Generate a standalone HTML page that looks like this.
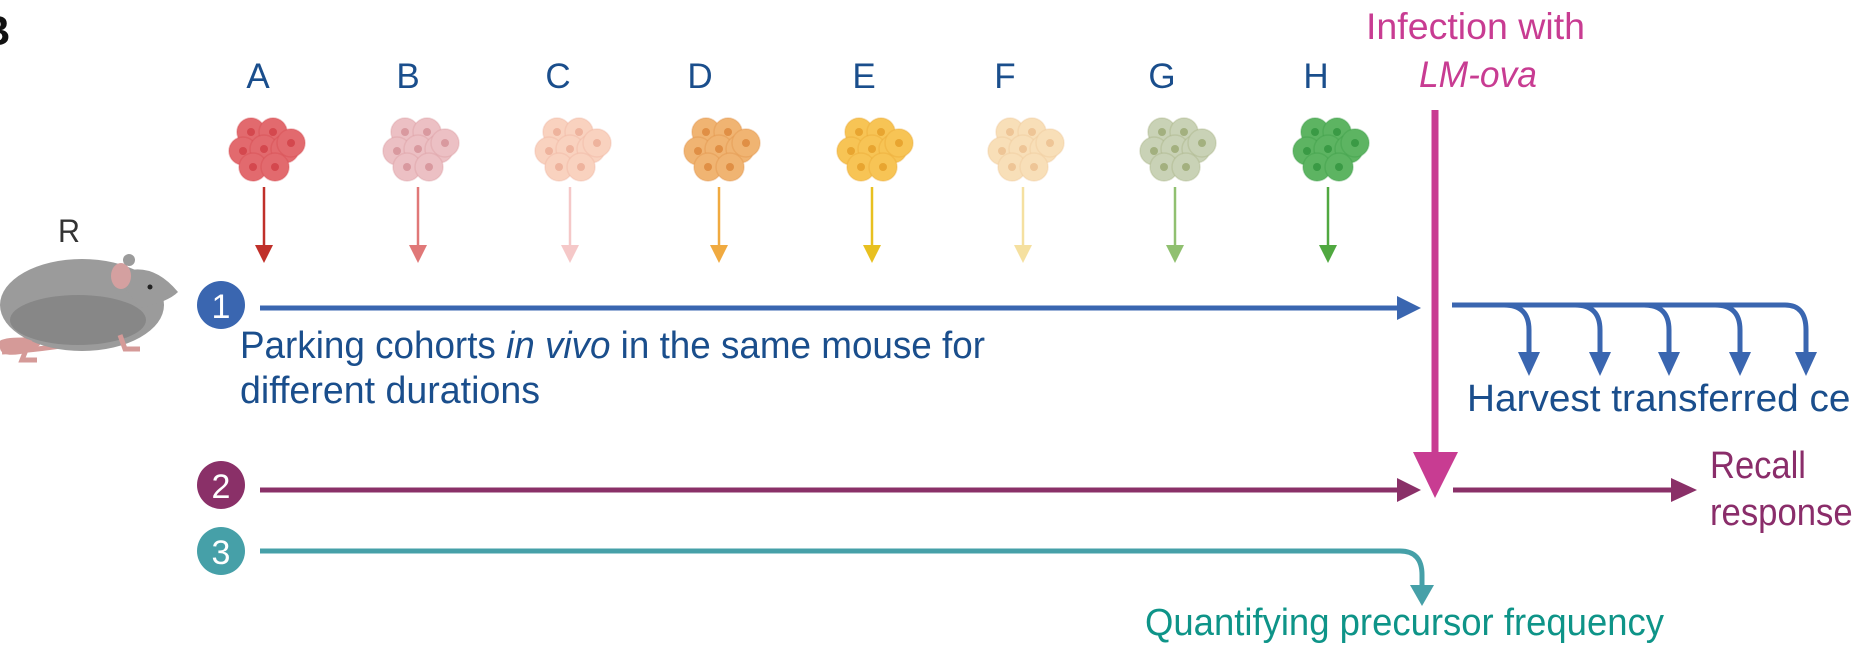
<!DOCTYPE html>
<html><head><meta charset="utf-8"><style>
html,body{margin:0;padding:0;background:#fff;width:1852px;height:650px;overflow:hidden}
svg{display:block;font-family:"Liberation Sans",Arial,sans-serif}
</style></head><body>
<svg id="s" width="1852" height="650" viewBox="0 0 1852 650">
<text x="-20" y="45" font-size="42" font-weight="bold" fill="#111">B</text>
<text x="58" y="242" font-size="32" fill="#333" textLength="22" lengthAdjust="spacingAndGlyphs">R</text>
<g id="mouse">
<path d="M0,345 Q-5,340 10,338 Q60,335 30,352 Q-2,360 0,345" fill="#d59a98"/>
<path d="M2,352 Q40,350 85,342" stroke="#d59a98" stroke-width="5" fill="none"/>
<ellipse cx="82" cy="305" rx="82" ry="46" fill="#9b9b9b"/>
<ellipse cx="78" cy="320" rx="68" ry="25" fill="#878787"/>
<path d="M115,275 Q150,258 178,292 Q168,302 140,308 Z" fill="#9b9b9b"/>
<ellipse cx="121" cy="276" rx="10" ry="13" fill="#d4a0a0"/>
<circle cx="129" cy="260" r="6" fill="#9b9b9b"/>
<circle cx="150" cy="287" r="2.5" fill="#222"/>
<path d="M30,340 l-8,20 l15,0 M120,335 l5,14 l15,0" stroke="#d59a98" stroke-width="5" fill="none"/>
</g>
<g id="cohorts"></g>
<text x="1366" y="39" font-size="37" fill="#c83c92" textLength="219" lengthAdjust="spacingAndGlyphs">Infection with</text>
<text x="1419" y="87" font-size="37" font-style="italic" fill="#c83c92" textLength="118" lengthAdjust="spacingAndGlyphs">LM-ova</text>
<line x1="1435" y1="110" x2="1435" y2="455" stroke="#c83c92" stroke-width="7"/>
<path d="M1413,452 L1458,452 L1435,498 Z" fill="#c83c92"/>
<circle cx="221" cy="305" r="24" fill="#3a66b0"/>
<text x="221" y="318" font-size="34" fill="#fff" text-anchor="middle">1</text>
<line x1="260" y1="308" x2="1400" y2="308" stroke="#3a66b0" stroke-width="5"/>
<path d="M1397,296 L1421,308 L1397,320 Z" fill="#3a66b0"/>
<text x="240" y="358" font-size="38" fill="#1a4e8c" textLength="745" lengthAdjust="spacingAndGlyphs">Parking cohorts <tspan font-style="italic">in vivo</tspan> in the same mouse for</text>
<text x="240" y="403" font-size="38" fill="#1a4e8c" textLength="300" lengthAdjust="spacingAndGlyphs">different durations</text>
<g id="harvest">
<path d="M1452,305 L1785,305 Q1806,305 1806,330 L1806,355" stroke="#3a66b0" stroke-width="5" fill="none"/>
</g>
<text x="1467" y="411" font-size="38" fill="#1a4e8c" textLength="420" lengthAdjust="spacingAndGlyphs">Harvest transferred cells</text>
<circle cx="221" cy="485" r="24" fill="#8a3068"/>
<text x="221" y="498" font-size="34" fill="#fff" text-anchor="middle">2</text>
<line x1="260" y1="490" x2="1400" y2="490" stroke="#8a3068" stroke-width="5"/>
<path d="M1397,478 L1421,490 L1397,502 Z" fill="#8a3068"/>
<line x1="1453" y1="490" x2="1675" y2="490" stroke="#8a3068" stroke-width="5"/>
<path d="M1671,478 L1697,490 L1671,502 Z" fill="#8a3068"/>
<text x="1710" y="478" font-size="38" fill="#8a2d6a" textLength="96" lengthAdjust="spacingAndGlyphs">Recall</text>
<text x="1710" y="525" font-size="38" fill="#8a2d6a" textLength="160" lengthAdjust="spacingAndGlyphs">responses</text>
<circle cx="221" cy="551" r="24" fill="#46a0a8"/>
<text x="221" y="564" font-size="34" fill="#fff" text-anchor="middle">3</text>
<path d="M260,551 L1400,551 Q1422,551 1422,575 L1422,590" stroke="#46a0a8" stroke-width="5" fill="none"/>
<path d="M1410,585 L1434,585 L1422,606 Z" fill="#46a0a8"/>
<text x="1145" y="635" font-size="38" fill="#0e9488" textLength="519" lengthAdjust="spacingAndGlyphs">Quantifying precursor frequency</text>
</svg>
<script>
const labels=["A","B","C","D","E","F","G","H"];
const labelX=[258,408,558,700,864,1005,1162,1316];
const cellX=[264,418,570,719,872,1023,1175,1328];
const cellColors=["#e26a6e","#ecc0c4","#f9d2bf","#f0b472","#f7c455","#f8dfb8","#c9d2b6","#5db462"];
const nucColors=["#d4484e","#d9999f","#eeb39d","#e08f45","#e8a530","#eec596","#a3b07f","#3a9a45"];
const arrowColors=["#c0302a","#e07878","#f5c8c8","#f0aa40","#e8c020","#f5e0a0","#90c070","#50a840"];
const NS="http://www.w3.org/2000/svg";
const g=document.getElementById('cohorts');
const offs=[[-13,-17],[9,-17],[-21,2],[0,0],[21,0],[-11,18],[11,18],[27,-6]];
function mk(t,a){const e=document.createElementNS(NS,t);for(const k in a)e.setAttribute(k,a[k]);return e;}
labels.forEach((L,i)=>{
  const t=mk('text',{x:labelX[i],y:88,'font-size':35,fill:'#1a4e8c','text-anchor':'middle'});
  t.textContent=L;
  
  
  g.appendChild(t);
  const c=mk('g',{});
  
  
  offs.forEach(o=>{
    c.appendChild(mk('circle',{cx:cellX[i]+o[0],cy:149+o[1],r:14,fill:cellColors[i],stroke:nucColors[i],'stroke-opacity':0.35,'stroke-width':1.5}));
    c.appendChild(mk('circle',{cx:cellX[i]+o[0],cy:149+o[1],r:4,fill:nucColors[i]}));
  });
  g.appendChild(c);
  const a=mk('g',{});
  
  
  a.appendChild(mk('line',{x1:cellX[i],y1:187,x2:cellX[i],y2:250,stroke:arrowColors[i],'stroke-width':2.5}));
  a.appendChild(mk('path',{d:`M${cellX[i]-9},245 L${cellX[i]+9},245 L${cellX[i]},263 Z`,fill:arrowColors[i]}));
  g.appendChild(a);
});
const harvestX=[1529,1600,1669,1740,1806];
const h=document.getElementById('harvest');
harvestX.forEach((x,i)=>{
  if(i<4){const p=mk('path',{d:`M${x-25},305 Q${x},305 ${x},330 L${x},355`,stroke:'#3a66b0','stroke-width':5,fill:'none'});
  
  
  h.appendChild(p);}
  const hd=mk('path',{d:`M${x-11},352 L${x+11},352 L${x},376 Z`,fill:'#3a66b0'});
  
  
  h.appendChild(hd);
});
</script>
</body></html>
